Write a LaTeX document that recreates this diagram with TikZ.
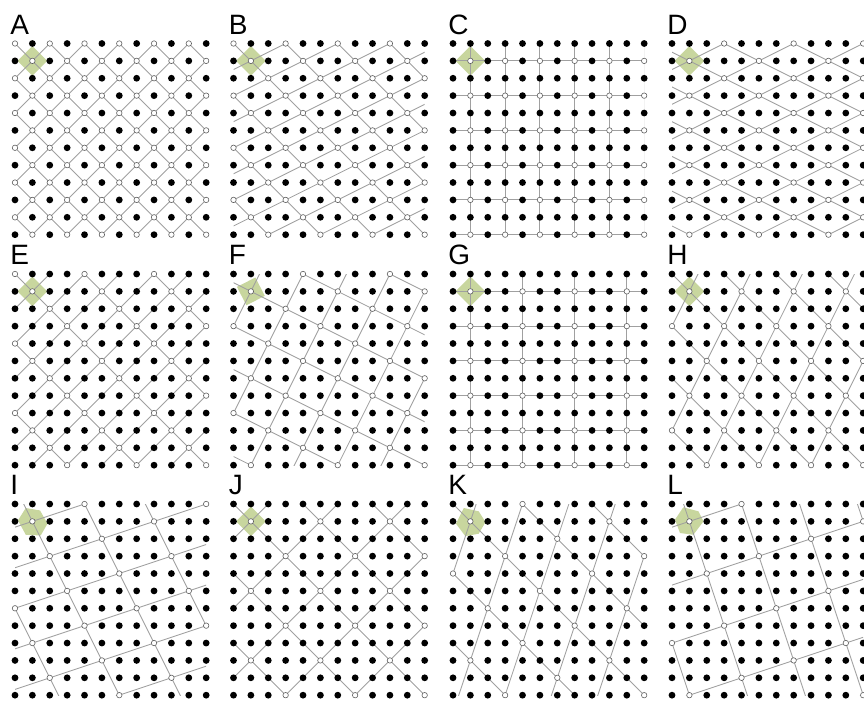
\documentclass[tikz,border=0pt]{standalone}
\usepackage{fontspec}
\setmainfont{Liberation Sans}
\definecolor{cellgreen}{RGB}{200,214,158}
\definecolor{latline}{RGB}{160,160,160}
\definecolor{dotrim}{RGB}{95,95,95}
\tikzset{
  whitedot/.style={fill=white,draw=dotrim,line width=0.45pt},
  blackdot/.style={fill=black},
  latticeline/.style={draw=latline,line width=0.65pt},
  greencell/.style={fill=cellgreen},
  panellabel/.style={anchor=base west,inner sep=0pt,font=\fontsize{21}{21}\selectfont}
}
% green cell outlines, relative to the white dot (1,1), in grid units (x right, y down)
\def\cellpathdefault{(-0.85,0) -- (0,-0.85) -- (0.85,0) -- (0,0.85)}
\def\cellpathF{(-0.80,-0.26) -- (0.26,-0.80) -- (0.80,0.26) -- (-0.26,0.80)}
\def\cellpathI{(-0.38,-0.77) -- (0.44,-0.63) -- (0.87,0.13) -- (0.48,0.81) -- (-0.38,0.77) -- (-0.83,-0.06)}
\def\cellpathK{(-0.38,-0.77) -- (0.48,-0.58) -- (0.87,0.04) -- (0.48,0.71) -- (-0.29,0.85) -- (-0.83,0.13)}
\def\cellpathL{(-0.35,-0.81) -- (0.52,-0.58) -- (0.81,0) -- (0.23,0.77) -- (-0.54,0.67) -- (-0.83,-0.10)}
% draw all lattice lines of direction (#1,#2) [row,col]; spacing from other generator (#3,#4)
\newcommand\latfamily[4]{%
  \pgfmathtruncatemacro\fz{(#2)-(#1)}%
  \pgfmathtruncatemacro\dl{abs((#2)*(#3)-(#1)*(#4))}%
  \pgfmathtruncatemacro\fmn{min(0,-11*(#1),11*(#2),11*((#2)-(#1)))}%
  \pgfmathtruncatemacro\fmx{max(0,-11*(#1),11*(#2),11*((#2)-(#1)))}%
  \pgfmathtruncatemacro\kmn{ceil((\fmn-\fz)/\dl)}%
  \pgfmathtruncatemacro\kmx{floor((\fmx-\fz)/\dl)}%
  \pgfmathtruncatemacro\nn{(#1)*(#1)+(#2)*(#2)}%
  \foreach \kk in {\kmn,...,\kmx}{%
    \pgfmathsetmacro\vv{\fz+\kk*\dl}%
    \pgfmathsetmacro\pxx{-\vv*(#1)/\nn}%
    \pgfmathsetmacro\pyy{\vv*(#2)/\nn}%
    \draw[latticeline] ({\pxx-30*(#2)},{\pyy-30*(#1)}) -- ({\pxx+30*(#2)},{\pyy+30*(#1)});
  }%
}
\begin{document}
\begin{tikzpicture}[x=0.75pt,y=-0.75pt]
\useasboundingbox (0,0) rectangle (864,700);
\foreach \lab/\px/\py/\gAr/\gAc/\gBr/\gBc/\dAr/\dAc/\dBr/\dBc in {
 A/15/43.5/1/1/1/-1/1/1/1/-1,
 B/233.5/43.5/1/1/-1/2/1/1/-1/2,
 C/453/43.5/0/2/2/0/0/1/1/0,
 D/672/43.5/1/2/-1/2/1/2/-1/2,
 E/15/274/1/1/2/-2/1/1/1/-1,
 F/233.5/274/1/2/-2/1/1/2/-2/1,
 G/453/274/0/3/2/0/0/1/1/0,
 H/672/274/2/2/2/-1/1/1/2/-1,
 I/15/504/2/1/-1/3/2/1/-1/3,
 J/233.5/504/2/2/2/-2/1/1/1/-1,
 K/453/504/2/2/-3/1/1/1/-3/1,
 L/672/504/3/1/-1/3/3/1/-1/3}{
  \node[panellabel] (lab\lab) at (\px-5,\py-9.5) {\lab};
  \begin{scope}[xshift=\px*0.75pt,yshift=-\py*0.75pt,x=13.035pt,y=-13.035pt]
    \ifcsname cellpath\lab\endcsname
      \edef\thecell{\csname cellpath\lab\endcsname}%
    \else
      \let\thecell\cellpathdefault
    \fi
    \begin{scope}[shift={(1,1)}]
      \fill[greencell] \thecell -- cycle;
    \end{scope}
    \begin{scope}
      \clip (0,0) rectangle (11,11);
      \latfamily{\dAr}{\dAc}{\gBr}{\gBc}
      \latfamily{\dBr}{\dBc}{\gAr}{\gAc}
    \end{scope}
    \pgfmathtruncatemacro\DD{abs(\gAr*\gBc-\gAc*\gBr)}
    \foreach \rowi in {0,...,11}{
      \foreach \coli in {0,...,11}{
        \pgfmathtruncatemacro\qi{(\rowi-1)*(\gBc)-(\coli-1)*(\gBr)}
        \pgfmathtruncatemacro\qj{(\gAr)*(\coli-1)-(\gAc)*(\rowi-1)}
        \pgfmathtruncatemacro\isw{(mod(\qi,\DD)==0)&&(mod(\qj,\DD)==0)}
        \ifnum\isw=1
          \draw[whitedot] (\coli,\rowi) circle[radius=2.05pt];
        \else
          \fill[blackdot] (\coli,\rowi) circle[radius=2.55pt];
        \fi
      }
    }
  \end{scope}
}
\end{tikzpicture}
\end{document}
